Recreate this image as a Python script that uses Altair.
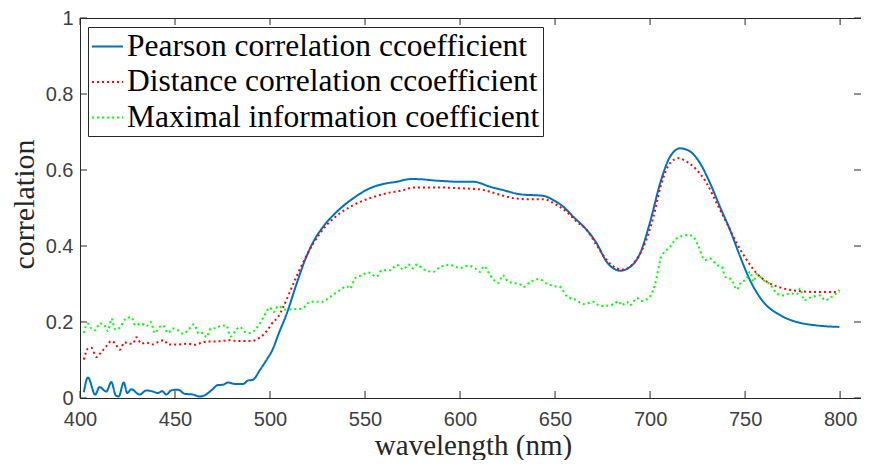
import altair as alt
import pandas as pd

# ---------------- data ----------------
series_names = [
    "Pearson correlation ccoefficient",
    "Distance correlation ccoefficient",
    "Maximal information coefficient",
]
series_colors = ["#0072BD", "#FF0000", "#00FF00"]

pearson_wl = [402, 404.2, 408, 410.3, 413.8, 416.5, 418.8, 420.4, 423, 424.9, 427, 431.4,
              434.9, 438.4, 441, 443.2, 445.4, 448, 451.6, 455.1, 459.5, 463, 465.6, 469.1,
              472.6, 475.3, 477.9, 481.4, 485.8, 488.4, 491, 494.6, 498, 501.6, 504.2, 508.8,
              514, 518.4, 522.8, 528, 535.1, 543.9, 552.6, 561.4, 566.7, 573.7, 577.2, 587.7,
              600, 607, 615.8, 622.8, 631.6, 643.8, 649.1, 654.4, 659.6, 666.7, 671.9, 677.2,
              680.7, 684.2, 689.5, 694.7, 700, 705.3, 710.5, 715.8, 721, 726.3, 731.6, 736.8,
              742.1, 747.4, 752.6, 759.6, 768.4, 777.2, 787.7, 799.6]
pearson_val = [0.015, 0.054, 0.009, 0.029, 0.017, 0.042, 0.007, 0.004, 0.041, 0.013, 0.023, 0.009,
               0.020, 0.017, 0.013, 0.018, 0.009, 0.020, 0.022, 0.011, 0.009, 0.004, 0.007, 0.020,
               0.034, 0.035, 0.041, 0.037, 0.037, 0.046, 0.048, 0.073, 0.099, 0.130, 0.165, 0.222,
               0.301, 0.363, 0.411, 0.451, 0.490, 0.526, 0.552, 0.565, 0.569, 0.576, 0.576, 0.572,
               0.569, 0.569, 0.556, 0.547, 0.536, 0.532, 0.521, 0.503, 0.477, 0.442, 0.407, 0.358,
               0.341, 0.335, 0.345, 0.380, 0.463, 0.565, 0.635, 0.657, 0.649, 0.618, 0.565, 0.503,
               0.442, 0.372, 0.310, 0.253, 0.218, 0.200, 0.191, 0.187]

distance_wl = [402, 404.2, 406, 408.6, 411.2, 413.8, 416.5, 418.6, 420.9, 423.5, 425.3, 427.9,
               429.6, 432.3, 434.9, 437.9, 441, 444.2, 446.3, 451.6, 456.8, 460.4, 463.8, 467.4,
               472.6, 477.9, 483.2, 490.2, 494.6, 498.9, 501, 504.2, 507, 512.3, 517.5, 522.8,
               529.8, 536.8, 545.6, 552.6, 561.4, 570.2, 575.4, 587.7, 600, 610.5, 617.5, 628,
               635.1, 643.8, 650.9, 656.1, 661.4, 666.7, 671.9, 677.2, 682.5, 686, 691.2, 696.5,
               701.8, 705.3, 710.5, 714.9, 719.3, 724.6, 729.8, 735.1, 740.4, 745.6, 750.9, 756.1,
               761.4, 768.4, 777.2, 787.7, 799.6]
distance_val = [0.101, 0.130, 0.132, 0.108, 0.121, 0.136, 0.150, 0.143, 0.127, 0.147, 0.143, 0.143,
                0.160, 0.143, 0.146, 0.141, 0.147, 0.152, 0.141, 0.141, 0.143, 0.140, 0.145, 0.149,
                0.149, 0.152, 0.150, 0.150, 0.159, 0.180, 0.196, 0.213, 0.240, 0.301, 0.358, 0.407,
                0.455, 0.486, 0.512, 0.526, 0.539, 0.547, 0.554, 0.554, 0.552, 0.549, 0.540, 0.526,
                0.523, 0.523, 0.508, 0.490, 0.464, 0.442, 0.402, 0.363, 0.341, 0.338, 0.354, 0.398,
                0.477, 0.552, 0.618, 0.631, 0.622, 0.600, 0.565, 0.512, 0.460, 0.407, 0.363, 0.328,
                0.306, 0.291, 0.282, 0.279, 0.279]

mic_wl = [402, 403.9, 406, 408, 410.3, 412.6, 414.7, 416.5, 418.6, 420.9, 423.5, 427, 429.1,
          432.3, 434.9, 437.2, 439.3, 441.9, 443.7, 446.3, 448.9, 451.6, 454.2, 456.8, 460,
          462.5, 464.7, 466.5, 468.8, 471.7, 474.4, 477, 479.3, 481.4, 484.1, 486.7, 489.3,
          491.9, 494.6, 497.2, 500, 501.8, 504.4, 507.9, 516.7, 521, 527.2, 531.6, 536.8, 540.4,
          542.1, 544.7, 548.3, 551.8, 556.1, 558.8, 563.2, 566.7, 570.2, 572.8, 575.4, 577.2,
          580.7, 586, 589.5, 594.7, 600, 604.4, 607.9, 610.5, 612.6, 615.8, 620.2, 622.5, 625.4,
          631.6, 633.3, 636.8, 641.6, 645.6, 650, 652.6, 656.1, 661.4, 664.9, 670.2, 673.7,
          680.7, 683.3, 685.1, 687.7, 689.5, 693, 695.6, 700, 702.6, 705.8, 710.5, 714, 720.2,
          722.8, 725.4, 728.9, 731.6, 735.1, 737.7, 739.5, 742.9, 745.6, 747.4, 750.9, 752.6,
          754.4, 756.1, 759.6, 763.2, 766.7, 770.2, 773.7, 777.2, 779, 781, 784.2, 789.5, 792.1,
          795.6, 799.6]
mic_val = [0.171, 0.196, 0.183, 0.178, 0.196, 0.194, 0.176, 0.209, 0.180, 0.185, 0.206, 0.213, 0.191,
           0.196, 0.189, 0.200, 0.171, 0.187, 0.191, 0.171, 0.183, 0.178, 0.169, 0.178, 0.194,
           0.169, 0.171, 0.160, 0.183, 0.184, 0.191, 0.191, 0.162, 0.174, 0.187, 0.174, 0.171,
           0.178, 0.196, 0.218, 0.238, 0.226, 0.242, 0.233, 0.235, 0.253, 0.253, 0.266, 0.284, 0.294,
           0.288, 0.315, 0.323, 0.330, 0.319, 0.336, 0.336, 0.350, 0.338, 0.351, 0.341, 0.351,
           0.339, 0.332, 0.345, 0.350, 0.342, 0.348, 0.341, 0.332, 0.347, 0.323, 0.303, 0.323, 0.306,
           0.299, 0.292, 0.305, 0.313, 0.301, 0.294, 0.292, 0.268, 0.257, 0.247, 0.253, 0.242,
           0.246, 0.255, 0.244, 0.253, 0.244, 0.263, 0.255, 0.268, 0.299, 0.370, 0.398, 0.420, 0.429,
           0.424, 0.400, 0.363, 0.367, 0.350, 0.345, 0.319, 0.312, 0.285, 0.301, 0.315, 0.332,
           0.306, 0.326, 0.310, 0.299, 0.275, 0.270, 0.275, 0.273, 0.288, 0.257, 0.264, 0.270, 0.257,
           0.266, 0.284]

x_ticks = [400, 450, 500, 550, 600, 650, 700, 750, 800]
y_ticks = [0, 0.2, 0.4, 0.6, 0.8, 1]

x_title = "wavelength (nm)"
y_title = "correlation"

# ---------------- build tables ----------------
frames = []
for name, wl, val in [(series_names[0], pearson_wl, pearson_val),
                      (series_names[1], distance_wl, distance_val),
                      (series_names[2], mic_wl, mic_val)]:
    frames.append(pd.DataFrame({"wavelength": wl, "value": val, "series": name}))
df = pd.concat(frames, ignore_index=True)

xt = pd.DataFrame({"wavelength": x_ticks})
yt = pd.DataFrame({"value": y_ticks})

W, H = 781, 380
TICK = 7
AX = "#262626"

xs = alt.Scale(domain=[400, 811], nice=False, zero=False)
ys = alt.Scale(domain=[0, 1], nice=False, zero=False)

x_axis = alt.Axis(values=x_ticks, title=x_title, grid=False, ticks=False, tickSize=0,
                  domain=False, labelPadding=11, labelFlush=False, labelOverlap=False,
                  labelBaseline="top", titleFontSize=29,
                  titleX=393, titleY=56, titleAlign="center", titleBaseline="alphabetic")
y_axis = alt.Axis(values=y_ticks, title=y_title, grid=False, ticks=False, tickSize=0,
                  domain=False, labelPadding=7, labelFlush=False, labelOverlap=False,
                  labelExpr="format(datum.value, '.1~f')",
                  titleAngle=270, titleX=-47, titleY=186,
                  titleAlign="center", titleBaseline="alphabetic")

x_enc = alt.X("wavelength:Q", scale=xs, axis=x_axis)
y_enc = alt.Y("value:Q", scale=ys, axis=y_axis)

legend = alt.Legend(orient="none", legendX=8, legendY=9, title=None,
                    labelFont="Liberation Serif", labelFontSize=31.5, labelColor="#000000",
                    symbolType="stroke", symbolSize=961, symbolStrokeWidth=2,
                    strokeColor=AX, fillColor="white", padding=3, rowPadding=3.5,
                    labelOffset=3, labelLimit=1000)

lines = alt.Chart(df).mark_line(strokeWidth=2, clip=True, interpolate="monotone").encode(
    x=x_enc,
    y=y_enc,
    color=alt.Color("series:N", scale=alt.Scale(domain=series_names, range=series_colors),
                    legend=legend),
    strokeDash=alt.StrokeDash("series:N",
                              scale=alt.Scale(domain=series_names,
                                              range=[[1, 0], [2, 3], [2, 3]]),
                              legend=legend),
)

tick_style = dict(color=AX, strokeWidth=1)
bottom_ticks = alt.Chart(xt).mark_rule(**tick_style).encode(
    x=x_enc, y=alt.value(H), y2=alt.value(H - TICK))
top_ticks = alt.Chart(xt).mark_rule(**tick_style).encode(
    x=x_enc, y=alt.value(0), y2=alt.value(TICK))
left_ticks = alt.Chart(yt).mark_rule(**tick_style).encode(
    y=y_enc, x=alt.value(0), x2=alt.value(TICK))
right_ticks = alt.Chart(yt).mark_rule(**tick_style).encode(
    y=y_enc, x=alt.value(W), x2=alt.value(W - TICK))

chart = alt.layer(bottom_ticks, top_ticks, left_ticks, right_ticks, lines).properties(
    width=W, height=H,
    autosize=alt.AutoSizeParams(type="none"),
    padding={"left": 72, "top": 10, "right": 0, "bottom": 62},
    background="white",
).configure_view(
    stroke=AX, strokeWidth=1
).configure_axis(
    labelFont="Liberation Sans", labelFontSize=20, labelColor="#404040",
    titleFont="Liberation Serif", titleFontSize=30, titleColor=AX, titleFontWeight="normal",
)

chart.save("out.html", embed_options={"renderer": "svg", "actions": False})
